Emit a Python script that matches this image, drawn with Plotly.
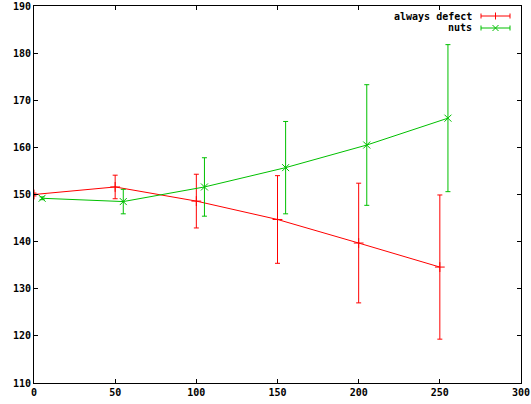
import plotly.graph_objects as go

# Data
defect_x = [0, 50, 100, 150, 200, 250]
defect_y = [150.0, 151.6, 148.6, 144.7, 139.7, 134.6]
defect_err = [0.3, 2.5, 5.7, 9.3, 12.7, 15.3]

nuts_x = [5, 55, 105, 155, 205, 255]
nuts_y = [149.2, 148.5, 151.6, 155.7, 160.5, 166.2]
nuts_err = [0.3, 2.6, 6.2, 9.8, 12.8, 15.6]

series_names = ["always defect", "nuts"]
x_ticks = [0, 50, 100, 150, 200, 250, 300]
y_ticks = [110, 120, 130, 140, 150, 160, 170, 180, 190]

RED = "#ff0000"
GREEN = "#00c000"
FONT = dict(family="DejaVu Sans Mono", size=10, color="black", weight="bold")

W, H = 531, 404
ML, MR, MT, MB = 34, 10, 6, 21

fig = go.Figure()
fig.add_trace(go.Scatter(
    x=defect_x, y=defect_y, mode="lines+markers", name=series_names[0],
    line=dict(color=RED, width=1),
    marker=dict(symbol="cross-thin", size=7, line=dict(color=RED, width=1)),
    error_y=dict(type="data", array=defect_err, color=RED, thickness=1, width=2.5),
    showlegend=False))
fig.add_trace(go.Scatter(
    x=nuts_x, y=nuts_y, mode="lines+markers", name=series_names[1],
    line=dict(color=GREEN, width=1),
    marker=dict(symbol="x-thin", size=7, line=dict(color=GREEN, width=1)),
    error_y=dict(type="data", array=nuts_err, color=GREEN, thickness=1, width=2.5),
    showlegend=False))

pw = W - ML - MR
ph = H - MT - MB


def px(x):
    return (x - ML) / pw


def py(y):
    return (H - MB - y) / ph


shapes = []
annotations = []
legend_rows = [(series_names[0], RED, 16, "plus"), (series_names[1], GREEN, 28, "x")]
x0, x1, xm = 481, 510, 495.5
for name, col, yy, mk in legend_rows:
    annotations.append(dict(x=px(474), y=py(yy), xref="paper", yref="paper",
                            text=name, showarrow=False, xanchor="right",
                            yanchor="middle", font=FONT))
    ln = dict(color=col, width=1)
    shapes.append(dict(type="line", xref="paper", yref="paper",
                       x0=px(x0), x1=px(x1), y0=py(yy), y1=py(yy), line=ln))
    for xe in (x0, x1):
        shapes.append(dict(type="line", xref="paper", yref="paper",
                           x0=px(xe), x1=px(xe), y0=py(yy - 2.5), y1=py(yy + 2.5), line=ln))
    if mk == "plus":
        shapes.append(dict(type="line", xref="paper", yref="paper",
                           x0=px(xm), x1=px(xm), y0=py(yy - 3.5), y1=py(yy + 3.5), line=ln))
    else:
        shapes.append(dict(type="line", xref="paper", yref="paper",
                           x0=px(xm - 3), x1=px(xm + 3), y0=py(yy - 3), y1=py(yy + 3), line=ln))
        shapes.append(dict(type="line", xref="paper", yref="paper",
                           x0=px(xm - 3), x1=px(xm + 3), y0=py(yy + 3), y1=py(yy - 3), line=ln))

axis_common = dict(showgrid=False, zeroline=False, showline=True, linecolor="black",
                   linewidth=1, mirror="allticks", ticks="inside", ticklen=4,
                   tickcolor="black", tickfont=FONT, automargin=False)

fig.update_layout(
    width=W, height=H,
    margin=dict(l=ML, r=MR, t=MT, b=MB, pad=0, autoexpand=False),
    paper_bgcolor="white", plot_bgcolor="white",
    hovermode=False,
    xaxis=dict(range=[0, 300], tickvals=x_ticks, **axis_common),
    yaxis=dict(range=[110, 190], tickvals=y_ticks, **axis_common),
    shapes=shapes, annotations=annotations,
)

fig.write_html("out.html",
               config={"displayModeBar": False, "staticPlot": True},
               post_script="document.body.style.margin='0';document.body.style.overflow='hidden';")
